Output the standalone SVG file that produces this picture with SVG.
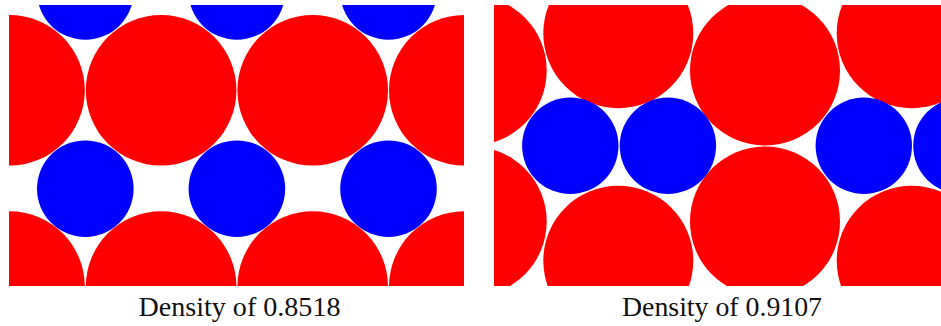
<svg xmlns="http://www.w3.org/2000/svg" width="941" height="326" viewBox="0 0 941 326">
  <style>
    .r { fill: #ff0000; }
    .b { fill: #0000ff; }
    .lbl { font-family: "Liberation Serif", "DejaVu Serif", serif; font-size: 28px; fill: #111; text-anchor: middle; }
  </style>
  <defs>
    <clipPath id="clipL"><rect x="9" y="5" width="455" height="281"/></clipPath>
    <clipPath id="clipR"><rect x="494" y="5" width="447" height="281"/></clipPath>
  </defs>
  <rect width="941" height="326" fill="#ffffff"/>
  <g id="panel-left" clip-path="url(#clipL)">
    <circle class="r" cx="9.5" cy="90.3" r="75.3"/>
    <circle class="r" cx="161.1" cy="90.3" r="75.3"/>
    <circle class="r" cx="312.7" cy="90.3" r="75.3"/>
    <circle class="r" cx="464.3" cy="90.3" r="75.3"/>
    <circle class="r" cx="9.5" cy="286.6" r="75.3"/>
    <circle class="r" cx="161.1" cy="286.6" r="75.3"/>
    <circle class="r" cx="312.7" cy="286.6" r="75.3"/>
    <circle class="r" cx="464.3" cy="286.6" r="75.3"/>
    <circle class="b" cx="85.3" cy="-8.5" r="48.3"/>
    <circle class="b" cx="236.9" cy="-8.5" r="48.3"/>
    <circle class="b" cx="388.5" cy="-8.5" r="48.3"/>
    <circle class="b" cx="85.3" cy="188.7" r="48.3"/>
    <circle class="b" cx="236.9" cy="188.7" r="48.3"/>
    <circle class="b" cx="388.5" cy="188.7" r="48.3"/>
  </g>
  <g id="panel-right" clip-path="url(#clipR)">
    <circle class="r" cx="471.7" cy="70.5" r="75"/>
    <circle class="r" cx="471.7" cy="221.5" r="75"/>
    <circle class="r" cx="618.3" cy="33.3" r="75"/>
    <circle class="r" cx="618.3" cy="260.7" r="75"/>
    <circle class="r" cx="765" cy="70.5" r="75"/>
    <circle class="r" cx="765" cy="221.5" r="75"/>
    <circle class="r" cx="911.7" cy="33.3" r="75"/>
    <circle class="r" cx="911.7" cy="260.7" r="75"/>
    <circle class="b" cx="570.3" cy="145.8" r="48.2"/>
    <circle class="b" cx="667.9" cy="145.8" r="48.2"/>
    <circle class="b" cx="863.8" cy="145.8" r="48.2"/>
    <circle class="b" cx="961.4" cy="145.8" r="48.2"/>
  </g>
  <g id="labels">
    <text class="lbl" x="239.5" y="316" textLength="202" lengthAdjust="spacingAndGlyphs">Density of 0.8518</text>
    <text class="lbl" x="722" y="316" textLength="200" lengthAdjust="spacingAndGlyphs">Density of 0.9107</text>
  </g>
</svg>
